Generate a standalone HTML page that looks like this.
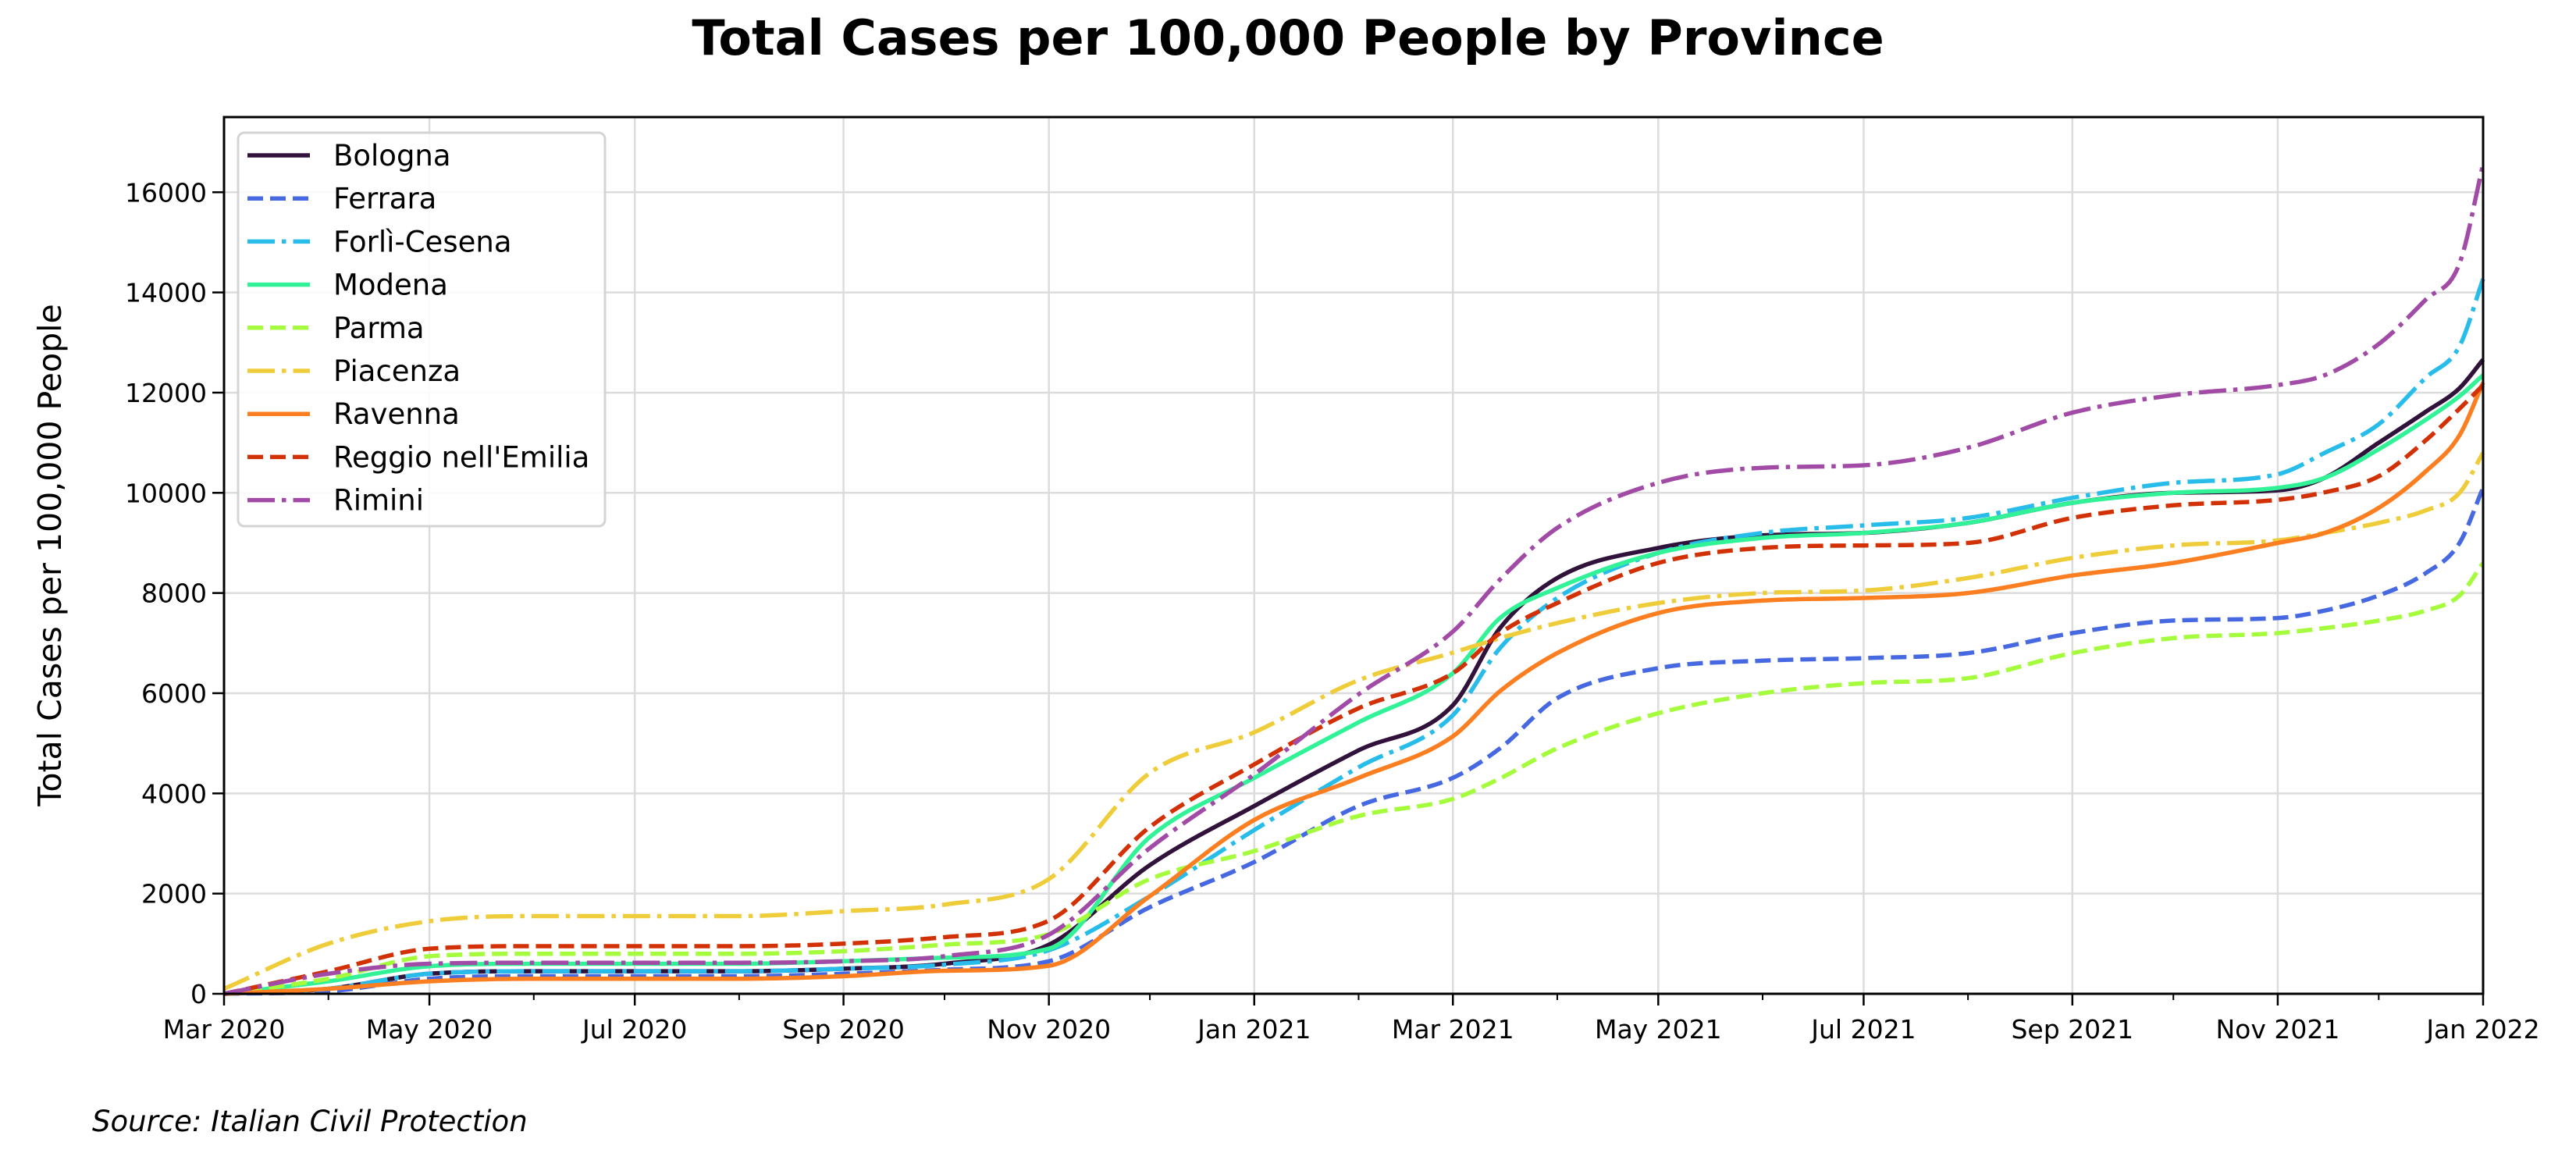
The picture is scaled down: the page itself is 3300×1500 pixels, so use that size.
<!DOCTYPE html>
<html><head><meta charset="utf-8"><style>
html,body{margin:0;padding:0;background:#fff;}
svg{display:block;font-family:"DejaVu Sans","Liberation Sans",sans-serif;}
</style></head><body>
<svg id="chart" width="3300" height="1500" viewBox="0 0 3300 1500">
<text x="1650" y="70" text-anchor="middle" font-size="62" font-weight="bold">Total Cases per 100,000 People by Province</text>
<text transform="translate(78,711) rotate(-90)" text-anchor="middle" font-size="41">Total Cases per 100,000 People</text>
<text x="118" y="1449" font-size="37" font-style="italic">Source: Italian Civil Protection</text>
<g id="grid"></g><g id="series"></g><g id="axes"></g><g id="legend"></g>
</svg>
<script>
const dates=["2020-03-01","2020-04-01","2020-05-01","2020-06-01","2020-07-01","2020-08-01","2020-09-01","2020-10-01","2020-11-01","2020-12-01","2021-01-01","2021-02-01","2021-03-01","2021-03-15","2021-04-01","2021-05-01","2021-06-01","2021-07-01","2021-08-01","2021-09-01","2021-10-01","2021-11-01","2021-11-15","2021-12-01","2021-12-15","2021-12-25","2022-01-01"];
const names=["Bologna","Ferrara","Forlì-Cesena","Modena","Parma","Piacenza","Ravenna","Reggio nell'Emilia","Rimini"];
const bologna=[0,100,400,450,450,450,500,600,980,2570,3750,4860,5760,7300,8300,8900,9150,9200,9400,9800,10000,10050,10300,11000,11620,12090,12660];
const ferrara=[0,50,300,350,350,350,400,480,650,1730,2630,3750,4310,4900,5900,6500,6650,6700,6800,7200,7450,7500,7650,7950,8400,9000,10100];
const forli=[0,100,400,450,450,450,500,580,870,1950,3270,4520,5560,6900,7900,8800,9200,9350,9500,9900,10200,10370,10800,11370,12300,12930,14270];
const modena=[0,250,550,600,600,600,650,720,900,3130,4310,5420,6400,7500,8100,8800,9100,9200,9400,9800,10000,10100,10300,10870,11460,11930,12350];
const parma=[0,300,750,800,800,800,850,980,1190,2290,2850,3550,3890,4300,4900,5600,6000,6200,6300,6800,7100,7200,7300,7450,7650,7950,8600];
const piacenza=[100,1000,1450,1550,1550,1550,1650,1780,2290,4410,5220,6260,6810,7100,7400,7800,8000,8050,8300,8700,8950,9050,9200,9400,9650,10000,10800];
const ravenna=[0,100,250,300,300,300,350,460,560,1950,3470,4310,5140,6040,6800,7600,7850,7900,8000,8350,8600,9000,9200,9700,10430,11150,12200];
const reggio=[0,450,900,950,950,950,1000,1130,1460,3330,4580,5700,6400,7200,7800,8600,8900,8950,9000,9500,9750,9860,10010,10330,11050,11680,12150];
const rimini=[0,400,600,620,620,620,650,750,1180,2910,4380,5980,7230,8270,9300,10200,10500,10550,10900,11600,11950,12150,12350,12970,13860,14580,16560];
const yTicks=[0,2000,4000,6000,8000,10000,12000,14000,16000];
const xTickLabels=["Mar 2020","May 2020","Jul 2020","Sep 2020","Nov 2020","Jan 2021","Mar 2021","May 2021","Jul 2021","Sep 2021","Nov 2021","Jan 2022"];
const xTickDates=["2020-03-01","2020-05-01","2020-07-01","2020-09-01","2020-11-01","2021-01-01","2021-03-01","2021-05-01","2021-07-01","2021-09-01","2021-11-01","2022-01-01"];
const xMinorDates=["2020-04-01","2020-06-01","2020-08-01","2020-10-01","2020-12-01","2021-02-01","2021-04-01","2021-06-01","2021-08-01","2021-10-01","2021-12-01"];

const series=[bologna,ferrara,forli,modena,parma,piacenza,ravenna,reggio,rimini];
const colors=["#30123b","#4669e2","#28bceb","#32f298","#a4fc3c","#efcd3a","#fb7e21","#d23105","#a24ba6"];
const styles=["solid","dash","dashdot","solid","dash","dashdot","solid","dash","dashdot"];
const L=287,R=3181,T=150,B=1273;
const t0=Date.parse("2020-03-01"),t1=Date.parse("2022-01-01");
const X=d=>L+(Date.parse(d)-t0)/(t1-t0)*(R-L);
function yS(v){return B-v*(B-T)/17500;}
const NS="http://www.w3.org/2000/svg";
function mk(tag,attrs,parent){const e=document.createElementNS(NS,tag);for(const k in attrs)e.setAttribute(k,attrs[k]);parent.appendChild(e);return e;}
const grid=document.getElementById('grid'),axes=document.getElementById('axes'),sg=document.getElementById('series'),lg=document.getElementById('legend');
yTicks.forEach(v=>{
  const g=mk('line',{x1:L,x2:R,y1:yS(v),y2:yS(v),stroke:"#dcdcdc","stroke-width":2.5},grid);
  
  
  const tk=mk('line',{x1:L-15,x2:L,y1:yS(v),y2:yS(v),stroke:"#000","stroke-width":2.5},axes);
  
  
  const t=mk('text',{x:L-22,y:yS(v)+12,"text-anchor":"end","font-size":33},axes);t.textContent=v;
  
  
});
xTickDates.forEach((d,i)=>{
  const x=X(d);
  const g=mk('line',{x1:x,x2:x,y1:T,y2:B,stroke:"#dcdcdc","stroke-width":2.5},grid);
  
  
  const tk=mk('line',{x1:x,x2:x,y1:B,y2:B+15,stroke:"#000","stroke-width":2.5},axes);
  
  
  const t=mk('text',{x:x,y:B+57,"text-anchor":"middle","font-size":33},axes);t.textContent=xTickLabels[i];
  
  
});
xMinorDates.forEach(d=>{
  const x=X(d);
  const tk=mk('line',{x1:x,x2:x,y1:B,y2:B+8,stroke:"#000","stroke-width":2},axes);
  
  
});
const frame=mk('rect',{x:L,y:T,width:R-L,height:B-T,fill:"none",stroke:"#000","stroke-width":3},axes);


function dash(s){return s==="dash"?"20 9":s==="dashdot"?"35 9 5.5 9":"none";}
function mono(pts){
  const n=pts.length,dx=[],m=[],t=[];
  for(let i=0;i<n-1;i++){dx[i]=pts[i+1][0]-pts[i][0];m[i]=(pts[i+1][1]-pts[i][1])/dx[i];}
  t[0]=m[0];t[n-1]=m[n-2];
  for(let i=1;i<n-1;i++){t[i]=(m[i-1]*m[i]<=0)?0:(m[i-1]+m[i])/2;}
  for(let i=0;i<n-1;i++){if(m[i]===0){t[i]=0;t[i+1]=0;continue;}const a=t[i]/m[i],b=t[i+1]/m[i],s=a*a+b*b;if(s>9){const k=3/Math.sqrt(s);t[i]=k*a*m[i];t[i+1]=k*b*m[i];}}
  let d="M"+pts[0][0].toFixed(1)+","+pts[0][1].toFixed(1);
  for(let i=0;i<n-1;i++){const h=dx[i]/3;d+=" C"+(pts[i][0]+h).toFixed(1)+","+(pts[i][1]+t[i]*h).toFixed(1)+" "+(pts[i+1][0]-h).toFixed(1)+","+(pts[i+1][1]-t[i+1]*h).toFixed(1)+" "+pts[i+1][0].toFixed(1)+","+pts[i+1][1].toFixed(1);}
  return d;
}
series.forEach((vals,si)=>{
  const pts=dates.map((d,i)=>[X(d),yS(vals[i])]);
  const p=mk('path',{d:mono(pts),fill:"none",stroke:colors[si],"stroke-width":5.5,"stroke-dasharray":dash(styles[si])},sg);
  
  
});
const box=mk('rect',{x:305,y:170,width:470,height:504,rx:8,fill:"#fff","fill-opacity":0.85,stroke:"#d4d4d4","stroke-width":3},lg);


names.forEach((n,i)=>{
  const y=199+i*55.2;
  const ln=mk('line',{x1:317,x2:397,y1:y,y2:y,stroke:colors[i],"stroke-width":5.5,"stroke-dasharray":dash(styles[i])},lg);
  
  
  const t=mk('text',{x:427,y:y+13,"font-size":37},lg);t.textContent=n;
  
  
});
</script>
</body></html>
